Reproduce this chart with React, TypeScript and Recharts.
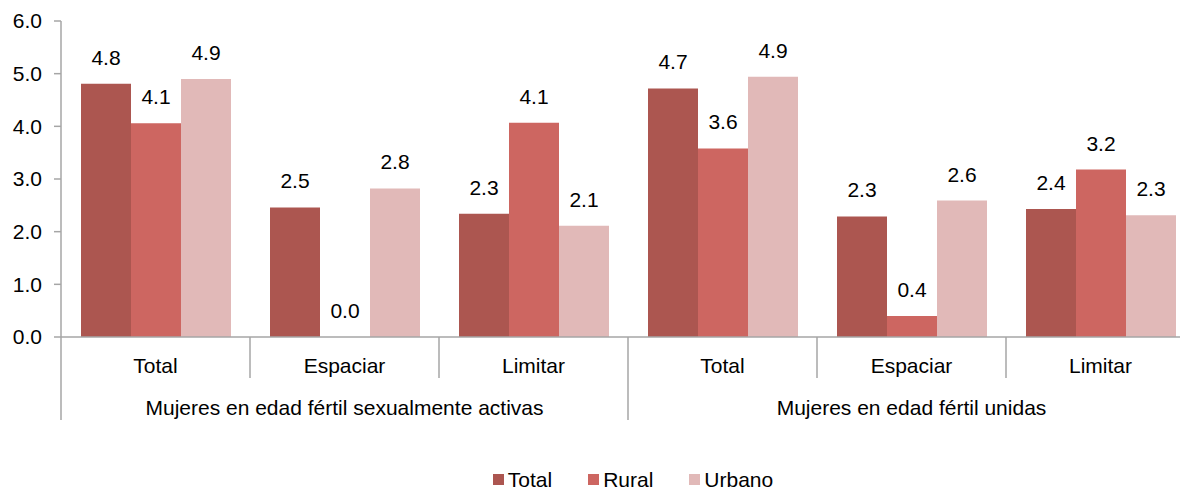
import React from 'react';
import { BarChart, Bar, XAxis, YAxis, Legend, LabelList } from 'recharts';

const categories = ['Total', 'Espaciar', 'Limitar', 'Total', 'Espaciar', 'Limitar'];
const groups = ['Mujeres en edad fértil sexualmente activas', 'Mujeres en edad fértil unidas'];
const totalValues = [4.81, 2.46, 2.34, 4.72, 2.29, 2.43];
const ruralValues = [4.06, 0.0, 4.07, 3.58, 0.4, 3.18];
const urbanoValues = [4.9, 2.82, 2.11, 4.94, 2.59, 2.31];
const yTicks = [0, 1, 2, 3, 4, 5, 6];

const series = [
  { key: 'total', name: 'Total', color: '#AC5650' },
  { key: 'rural', name: 'Rural', color: '#CD6661' },
  { key: 'urbano', name: 'Urbano', color: '#E1B9B8' },
];

const data = categories.map((c, i) => ({
  cat: c,
  total: totalValues[i],
  rural: ruralValues[i],
  urbano: urbanoValues[i],
}));

const FONT = '"Liberation Sans", Arial, sans-serif';
const FS = 21;
const AXIS = '#A6A6A6';
const CHART_W = 1200;
const CHART_H = 491;
const Y_W = 61;
const PLOT_W = 1134;
const BAND = PLOT_W / categories.length;
const PER_GROUP = 3;

const CategoryTick = (props: any) => {
  const { x, y, payload, index } = props;
  const left = x - BAND / 2;
  const isLast = index === categories.length - 1;
  const groupStart = index % PER_GROUP === 0;
  const groupMid = index % PER_GROUP === 1;
  return (
    <g>
      <line x1={left} x2={left} y1={y} y2={groupStart ? y + 83 : y + 41} stroke={AXIS} strokeWidth={1.5} />
      {isLast && <line x1={x + BAND / 2} x2={x + BAND / 2} y1={y} y2={y + 83} stroke={AXIS} strokeWidth={1.5} />}
      <text x={x} y={y + 36} textAnchor="middle" fontSize={FS} fontFamily={FONT} fill="#000">
        {payload.value}
      </text>
      {groupMid && (
        <text x={x} y={y + 78} textAnchor="middle" fontSize={FS} fontFamily={FONT} fill="#000">
          {groups[Math.floor(index / PER_GROUP)]}
        </text>
      )}
    </g>
  );
};

const LegendContent = () => (
  <div style={{ height: 69, paddingTop: 46, boxSizing: 'border-box', display: 'flex', justifyContent: 'center', paddingLeft: 71, fontFamily: FONT, fontSize: FS, color: '#000' }}>
    {series.map(s => (
      <div key={s.key} style={{ display: 'flex', alignItems: 'center', margin: '0 18px', height: 23, lineHeight: '23px' }}>
        <span style={{ width: 11, height: 11, background: s.color, display: 'inline-block', marginRight: 4 }} />
        {s.name}
      </div>
    ))}
  </div>
);

const App = () => {
  return (
    <div style={{ position: 'absolute', left: 0, top: 0, width: 1180, height: 491, overflow: 'hidden', background: '#fff' }}>
      <BarChart width={CHART_W} height={CHART_H} data={data}
                margin={{ top: 21, right: CHART_W - Y_W - PLOT_W, bottom: 0, left: 0 }}
                barCategoryGap={20} barGap={0}>
        <XAxis dataKey="cat" interval={0} height={85} tickSize={0} tickMargin={0}
               axisLine={{ stroke: AXIS, strokeWidth: 1.5 }} tickLine={false} tick={<CategoryTick />} />
        <YAxis domain={[0, 6]} ticks={yTicks} width={Y_W} tickSize={7} tickMargin={12}
               tickFormatter={(v: number) => v.toFixed(1)}
               axisLine={{ stroke: AXIS, strokeWidth: 1.5 }} tickLine={{ stroke: AXIS, strokeWidth: 1.5 }}
               tick={{ fontSize: FS, fontFamily: FONT, fill: '#000' }} />
        <Legend verticalAlign="bottom" content={<LegendContent />} />
        {series.map(s => (
          <Bar key={s.key} dataKey={s.key} name={s.name} fill={s.color} isAnimationActive={false}
               minPointSize={(v: any) => (v === 0 ? 0.01 : 0)}>
            <LabelList dataKey={s.key} position="top" offset={19}
                       formatter={(v: any) => Number(v).toFixed(1)}
                       style={{ fontSize: FS, fontFamily: FONT, fill: '#000' }} />
          </Bar>
        ))}
      </BarChart>
    </div>
  );
};

export default App;
